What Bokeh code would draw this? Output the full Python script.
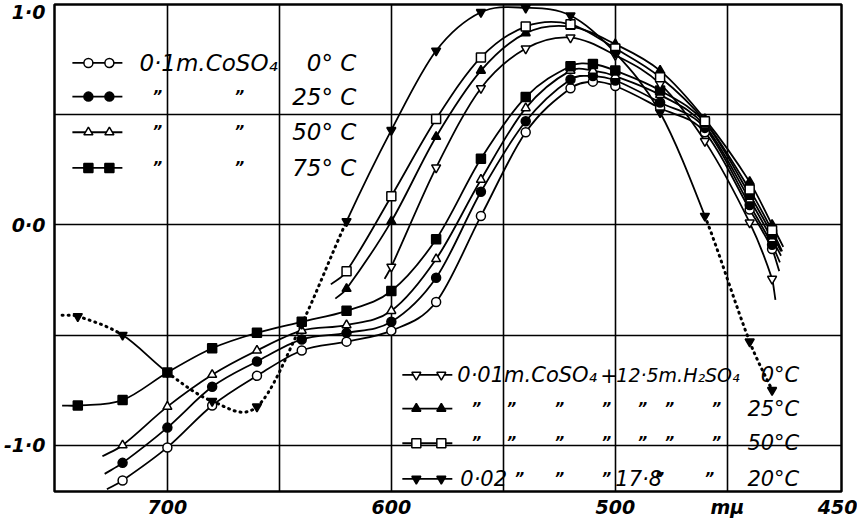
from bokeh.plotting import figure
from bokeh.models import Range1d, FixedTicker
from bokeh.embed import file_html
from bokeh.resources import INLINE
from bokeh.core.properties import value

# ---------------- data (wavelength in m\u03bc, log extinction) ----------------
WL_WATER = [720, 700, 680, 660, 640, 620, 600, 580, 560, 540, 520, 510, 500, 480, 460, 440, 430]
WL_WATER_75 = [740] + WL_WATER

LOG_01M_0C = [-1.16, -1.01, -0.82, -0.685, -0.57, -0.53, -0.48, -0.35, 0.04, 0.42, 0.62, 0.65, 0.63, 0.53, 0.42, 0.07, -0.11]
LOG_01M_25C = [-1.08, -0.92, -0.735, -0.62, -0.52, -0.49, -0.44, -0.24, 0.15, 0.47, 0.66, 0.675, 0.655, 0.555, 0.44, 0.09, -0.09]
LOG_01M_50C = [-1.0, -0.825, -0.68, -0.57, -0.48, -0.455, -0.39, -0.155, 0.205, 0.53, 0.70, 0.70, 0.675, 0.59, 0.45, 0.115, -0.065]
LOG_01M_75C = [-0.82, -0.795, -0.67, -0.56, -0.49, -0.44, -0.39, -0.30, -0.065, 0.30, 0.58, 0.72, 0.73, 0.70, 0.61, 0.465, 0.137, -0.043]

WL_12M_0C = [600, 580, 560, 540, 520, 500, 480, 460, 440, 430]
LOG_12M_0C = [-0.19, 0.26, 0.62, 0.80, 0.85, 0.77, 0.64, 0.38, 0.01, -0.245]
WL_12M = [620, 600, 580, 560, 540, 520, 500, 480, 460, 440, 430]
LOG_12M_25C = [-0.29, 0.016, 0.40, 0.70, 0.87, 0.90, 0.82, 0.70, 0.48, 0.195, 0.0]
LOG_12M_50C = [-0.21, 0.13, 0.48, 0.76, 0.90, 0.91, 0.80, 0.67, 0.47, 0.16, -0.025]

WL_178M_20C = [740, 720, 700, 680, 660, 640, 620, 600, 580, 560, 540, 520, 500, 480, 460, 440, 430]
LOG_178M_20C = [-0.415, -0.50, -0.67, -0.80, -0.825, -0.45, 0.016, 0.43, 0.79, 0.965, 0.985, 0.95, 0.78, 0.51, 0.04, -0.53, -0.75]

# ends of the drawn curves beyond the first / last measured point
TAIL_START_WL = [727, 728, 729, 747, 603, 625, 627, 747]
TAIL_START_LOG = [-1.20, -1.13, -1.05, -0.82, -0.245, -0.335, -0.27, -0.41]
TAIL_END_WL = [426.8, 426.5, 426.0, 426.0, 428.5, 425.0, 425.5, None]
TAIL_END_LOG = [-0.21, -0.17, -0.14, -0.12, -0.34, -0.10, -0.12, None]

X_TICKS = [700, 600, 500, 450, 400]
X_TICK_TEXT = ["700", "600", "500", "m\u03bc", "450"]
Y_TICKS = [1.0, 0.0, -1.0]
Y_TICK_TEXT = ["1\u00b70", "0\u00b70", "-1\u00b70"]

# ---------------- figure ----------------
p = figure(frame_width=787, frame_height=487, output_backend="svg", toolbar_location=None,
           x_range=Range1d(750.4, 399.0), y_range=Range1d(-1.21, 1.0),
           min_border_left=52, min_border_right=16, min_border_top=4, min_border_bottom=0)
p.background_fill_color = "white"
p.border_fill_color = "white"
p.outline_line_color = "black"
p.outline_line_width = 2.5

p.xgrid.ticker = FixedTicker(ticks=[700, 650, 600, 550, 500, 450])
p.ygrid.ticker = FixedTicker(ticks=[0.5, 0.0, -0.5, -1.0])
for g in (p.xgrid, p.ygrid):
    g.grid_line_color = "black"
    g.grid_line_width = 1.6
    g.grid_line_alpha = 1.0

for ax in (p.xaxis, p.yaxis):
    ax.axis_line_color = None
    ax.major_tick_line_color = None
    ax.minor_tick_line_color = None
    ax.major_tick_out = 0
    ax.major_tick_in = 0
    ax.minor_tick_out = 0
    ax.major_label_text_font = "DejaVu Sans"
    ax.major_label_text_font_style = "bold italic"
    ax.major_label_text_font_size = "19px"
    ax.major_label_text_color = "black"

p.xaxis.ticker = FixedTicker(ticks=X_TICKS)
p.xaxis.major_label_overrides = {t: s for t, s in zip(X_TICKS, X_TICK_TEXT)}
p.xaxis.major_label_standoff = 4
p.yaxis.ticker = FixedTicker(ticks=Y_TICKS)
p.yaxis.major_label_overrides = {t: s for t, s in zip(Y_TICKS, Y_TICK_TEXT)}
p.yaxis.major_label_standoff = 9

LW = 1.8
MS = 9


def smooth_segments(xs, ys):
    """Cubic Hermite pieces (as Bezier control points) through the given points."""
    n = len(xs)
    slopes = []
    for i in range(n):
        a = max(i - 1, 0)
        b = min(i + 1, n - 1)
        slopes.append((ys[b] - ys[a]) / (xs[b] - xs[a]))
    segs = []
    for i in range(n - 1):
        dx = xs[i + 1] - xs[i]
        segs.append(dict(x0=xs[i], y0=ys[i], x1=xs[i + 1], y1=ys[i + 1],
                         cx0=xs[i] + dx / 3, cy0=ys[i] + slopes[i] * dx / 3,
                         cx1=xs[i + 1] - dx / 3, cy1=ys[i + 1] - slopes[i + 1] * dx / 3))
    return segs


def draw_segments(segs, **style):
    if not segs:
        return
    cols = {k: [s[k] for s in segs] for k in segs[0]}
    p.bezier(**cols, **style)


series = [
    (WL_WATER, LOG_01M_0C, "circle", "white"),
    (WL_WATER, LOG_01M_25C, "circle", "black"),
    (WL_WATER, LOG_01M_50C, "triangle", "white"),
    (WL_WATER_75, LOG_01M_75C, "square", "black"),
    (WL_12M_0C, LOG_12M_0C, "inverted_triangle", "white"),
    (WL_12M, LOG_12M_25C, "triangle", "black"),
    (WL_12M, LOG_12M_50C, "square", "white"),
    (WL_178M_20C, LOG_178M_20C, "inverted_triangle", "black"),
]

DOTTED = dict(line_dash="1 5", line_cap="round", line_width=3.0, line_color="black")
SOLID = dict(line_width=LW, line_color="black")
# wavelength spans of the 17.8 m curve that are drawn dotted
DOTTED_SPANS = [(720, 760), (620, 700), (420, 460)]

for i, (wl, lg, mk, fill) in enumerate(series):
    xs = [TAIL_START_WL[i]] + list(wl)
    ys = [TAIL_START_LOG[i]] + list(lg)
    if TAIL_END_WL[i] is not None:
        xs = xs + [TAIL_END_WL[i]]
        ys = ys + [TAIL_END_LOG[i]]
    segs = smooth_segments(xs, ys)
    if i < 7:
        draw_segments(segs, **SOLID)
    else:
        def is_dotted(s):
            mid = 0.5 * (s["x0"] + s["x1"])
            return any(lo <= mid <= hi for lo, hi in DOTTED_SPANS)
        draw_segments([s for s in segs if is_dotted(s)], **DOTTED)
        draw_segments([s for s in segs if not is_dotted(s)], **SOLID)

for i, (wl, lg, mk, fill) in enumerate(series):
    p.scatter(wl, lg, marker=mk, size=MS, fill_color=fill, line_color="black", line_width=1.5)

# ---------------- legends (drawn in the plot like the original) ----------------
def rx(px):
    return 700 - (px - 173) / 2.24


def ry(py):
    return (230.5 - py) / 222.5


FONT = value("DejaVu Sans")
TXT = dict(text_font=FONT, text_font_style="italic", text_font_size="23px",
           text_baseline="middle", text_align="left", text_color="black")
TXT_R = dict(TXT, text_align="right")
TXT_S = dict(TXT, text_font_size="21px")
TXT_SR = dict(TXT_S, text_align="right")
TXT_XS = dict(TXT, text_font_size="19px")
DITTO = dict(text_font=FONT, text_font_style="bold italic", text_font_size="15px",
             text_baseline="middle", text_align="center", text_color="black")

# upper-left legend
ul_rows = [67, 101, 137, 173]
ul_marks = [("circle", "white"), ("circle", "black"), ("triangle", "white"), ("square", "black")]
ul_temps = ["0\u00b0 C", "25\u00b0 C", "50\u00b0 C", "75\u00b0 C"]
for r, (mk, fill), t in zip(ul_rows, ul_marks, ul_temps):
    p.line([rx(78), rx(128)], [ry(r), ry(r)], line_color="black", line_width=LW)
    p.scatter([rx(94), rx(115)], [ry(r), ry(r)], marker=mk, size=MS, fill_color=fill,
              line_color="black", line_width=1.5)
    p.text([rx(362)], [ry(r)], text=[t], **TXT_R)
p.text([rx(145)], [ry(ul_rows[0])], text=["0\u00b71m.CoSO\u2084"], **TXT)
for r in ul_rows[1:]:
    p.text([rx(163), rx(245)], [ry(r), ry(r)], text=["\u201d", "\u201d"], **DITTO)

# lower-right legend
lr_rows = [382, 416, 451, 487]
lr_marks = [("inverted_triangle", "white"), ("triangle", "black"), ("square", "white"), ("inverted_triangle", "black")]
lr_temps = ["0\u00b0C", "25\u00b0C", "50\u00b0C", "20\u00b0C"]
for r, (mk, fill), t in zip(lr_rows, lr_marks, lr_temps):
    p.line([rx(408), rx(458)], [ry(r), ry(r)], line_color="black", line_width=LW)
    p.scatter([rx(422), rx(447)], [ry(r), ry(r)], marker=mk, size=MS, fill_color=fill,
              line_color="black", line_width=1.5)
    p.text([rx(805)], [ry(r)], text=[t], **TXT_SR)
p.text([rx(463)], [ry(lr_rows[0])], text=["0\u00b701m.CoSO\u2084"], **TXT_S)
p.text([rx(606)], [ry(lr_rows[0])], text=["+"], **TXT_S)
p.text([rx(622)], [ry(lr_rows[0])], text=["12\u00b75m.H\u2082SO\u2084"], **TXT_XS)
ditto_x = [482, 517, 565, 612, 648, 675, 722]
for r in lr_rows[1:3]:
    p.text([rx(v) for v in ditto_x], [ry(r)] * len(ditto_x), text=["\u201d"] * len(ditto_x), **DITTO)
p.text([rx(466)], [ry(lr_rows[3])], text=["0\u00b702"], **TXT_S)
p.text([rx(621)], [ry(lr_rows[3])], text=["17\u00b78"], **TXT_S)
d4 = [525, 565, 612, 665, 715]
p.text([rx(v) for v in d4], [ry(lr_rows[3])] * len(d4), text=["\u201d"] * len(d4), **DITTO)

open("out.html", "w").write(file_html(p, INLINE))
